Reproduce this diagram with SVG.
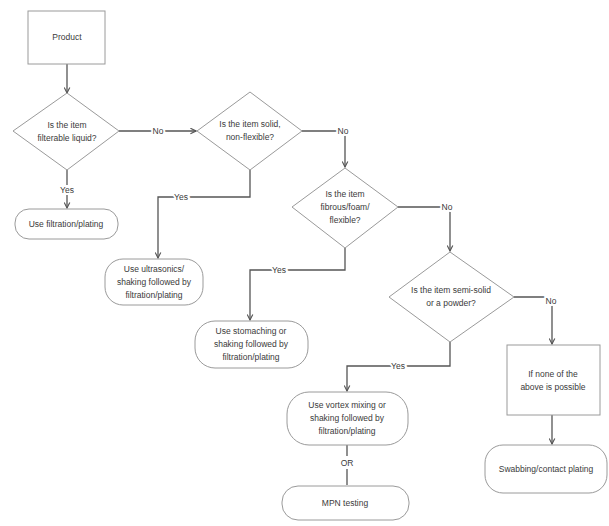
<svg xmlns="http://www.w3.org/2000/svg" width="609" height="526" viewBox="0 0 609 526">
<defs>
<marker id="arr" viewBox="0 0 10 10" refX="9" refY="5" markerWidth="7" markerHeight="7" orient="auto" markerUnits="userSpaceOnUse">
<path d="M1,1 L9,5 L1,9" fill="none" stroke="#555" stroke-width="1.6"/>
</marker>
<style>
.n{fill:#fff;stroke:#9a9a9a;stroke-width:1}
.t{font-family:"Liberation Sans",Arial,sans-serif;font-size:8.5px;fill:#3a3a3a;text-anchor:middle}
.c{fill:none;stroke:#555;stroke-width:1.3}
.l{font-family:"Liberation Sans",Arial,sans-serif;font-size:8.5px;fill:#3a3a3a;text-anchor:middle;stroke:#fff;stroke-width:4;paint-order:stroke}
</style>
</defs>
<rect width="609" height="526" fill="#fff"/>
<g id="connectors">
<path class="c" d="M67,64 V93" marker-end="url(#arr)"/>
<path class="c" d="M119,131 H196" marker-end="url(#arr)"/>
<text class="l" x="158" y="134">No</text>
<path class="c" d="M67,170 V208" marker-end="url(#arr)"/>
<text class="l" x="67" y="193">Yes</text>
<path class="c" d="M302,131 H345 V167" marker-end="url(#arr)"/>
<text class="l" x="343" y="134">No</text>
<path class="c" d="M250,170 V197 H158 V258" marker-end="url(#arr)"/>
<text class="l" x="181" y="200">Yes</text>
<path class="c" d="M398,207 H450 V251" marker-end="url(#arr)"/>
<text class="l" x="447" y="210">No</text>
<path class="c" d="M345,248 V270 H250 V320" marker-end="url(#arr)"/>
<text class="l" x="279" y="273">Yes</text>
<path class="c" d="M514,297 H552 V344" marker-end="url(#arr)"/>
<text class="l" x="551" y="304">No</text>
<path class="c" d="M450,342 V366 H347 V391" marker-end="url(#arr)"/>
<text class="l" x="398" y="369">Yes</text>
<path class="c" d="M552,415 V444" marker-end="url(#arr)"/>
<path class="c" d="M347,445 V456 M347,469 V485"/>
<text class="t" x="347" y="466">OR</text>
</g>
<g id="product">
<rect class="n" x="28" y="11" width="77" height="53"/>
<text class="t" x="67" y="40">Product</text>
</g>
<g id="q1">
<polygon class="n" points="67,93 119,131 67,170 13,131"/>
<text class="t" x="67" y="128">Is the item</text>
<text class="t" x="67" y="141">filterable liquid?</text>
</g>
<g id="filtration">
<rect class="n" x="15" y="209" width="103" height="30" rx="14"/>
<text class="t" x="66" y="227">Use filtration/plating</text>
</g>
<g id="q2">
<polygon class="n" points="250,92 302,131 250,170 197,131"/>
<text class="t" x="250" y="127">Is the item solid,</text>
<text class="t" x="250" y="140">non-flexible?</text>
</g>
<g id="ultrasonics">
<rect class="n" x="105" y="259" width="98" height="46" rx="18"/>
<text class="t" x="154" y="272">Use ultrasonics/</text>
<text class="t" x="154" y="285">shaking followed by</text>
<text class="t" x="154" y="298">filtration/plating</text>
</g>
<g id="q3">
<polygon class="n" points="345,168 398,207 345,248 292,207"/>
<text class="t" x="345" y="197">Is the item</text>
<text class="t" x="345" y="210">fibrous/foam/</text>
<text class="t" x="345" y="223">flexible?</text>
</g>
<g id="stomaching">
<rect class="n" x="195" y="321" width="113" height="47" rx="20"/>
<text class="t" x="251" y="334">Use stomaching or</text>
<text class="t" x="251" y="347">shaking followed by</text>
<text class="t" x="251" y="360">filtration/plating</text>
</g>
<g id="q4">
<polygon class="n" points="450,252 514,297 450,342 389,297"/>
<text class="t" x="451" y="293">Is the item semi-solid</text>
<text class="t" x="451" y="306">or a powder?</text>
</g>
<g id="vortex">
<rect class="n" x="287" y="392" width="121" height="53" rx="22"/>
<text class="t" x="347" y="408">Use vortex mixing or</text>
<text class="t" x="347" y="421">shaking followed by</text>
<text class="t" x="347" y="434">filtration/plating</text>
</g>
<g id="mpn">
<rect class="n" x="282" y="486" width="127" height="34" rx="16"/>
<text class="t" x="345" y="506">MPN testing</text>
</g>
<g id="none">
<rect class="n" x="507" y="345" width="93" height="70"/>
<text class="t" x="553" y="377">If none of the</text>
<text class="t" x="553" y="390">above is possible</text>
</g>
<g id="swabbing">
<rect class="n" x="485" y="445" width="122" height="48" rx="18"/>
<text class="t" x="546" y="472">Swabbing/contact plating</text>
</g>
</svg>
